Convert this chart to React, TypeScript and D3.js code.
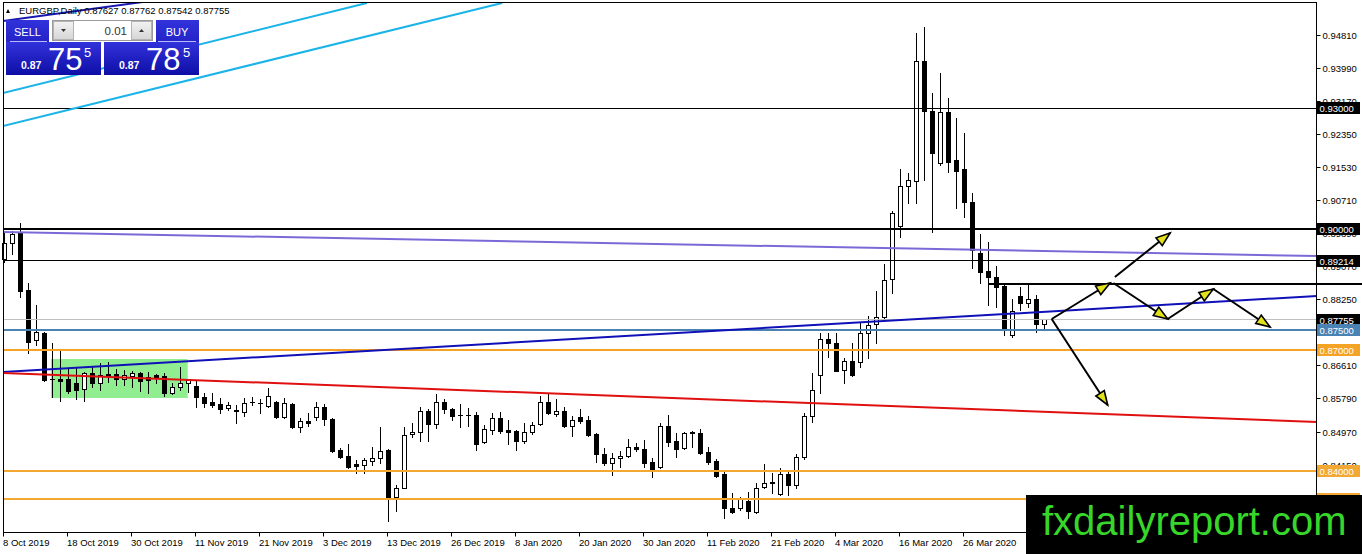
import * as d3 from 'd3';

// EURGBP daily candles, 8 Oct 2019 .. 9 Apr 2020 (one value per trading day)
const open = [
  0.89257, 0.89654, 0.89902, 0.88489, 0.87249, 0.87423, 0.86283, 0.86283, 0.86283, 0.86183,
  0.86035, 0.86431, 0.86183, 0.86407, 0.86407, 0.86283, 0.86357, 0.86431, 0.86332, 0.86382,
  0.86357, 0.85936, 0.86084, 0.86183, 0.86109, 0.85836, 0.85712, 0.85663, 0.85564, 0.85514,
  0.85464, 0.85712, 0.85688, 0.85613, 0.85712, 0.85341, 0.85663, 0.85093, 0.85241, 0.85341,
  0.85588, 0.85291, 0.84522, 0.84374, 0.84175, 0.84151, 0.84250, 0.84324, 0.84522, 0.83357,
  0.83580, 0.84919, 0.84969, 0.85489, 0.85167, 0.85712, 0.85539, 0.85390, 0.85390, 0.85390,
  0.84721, 0.85018, 0.85316, 0.85018, 0.84993, 0.84746, 0.84969, 0.85167, 0.85712, 0.85415,
  0.85489, 0.85117, 0.85341, 0.85266, 0.84919, 0.84423, 0.84200, 0.84324, 0.84374, 0.84597,
  0.84547, 0.84225, 0.84101, 0.85117, 0.84746, 0.84572, 0.84969, 0.84944, 0.84473, 0.84250,
  0.83928, 0.83085, 0.83085, 0.83258, 0.82986, 0.83605, 0.83704, 0.83432, 0.83928, 0.83655,
  0.84349, 0.85365, 0.86382, 0.87274, 0.87175, 0.86506, 0.86729, 0.86704, 0.87423, 0.87646,
  0.87820, 0.88762, 0.90075, 0.91067, 0.91191, 0.94141, 0.92926, 0.91637, 0.92877, 0.91687,
  0.91464, 0.90670, 0.89406, 0.88960, 0.88811, 0.88588, 0.87373, 0.88340, 0.88167, 0.88266,
  0.87627,
];
const high = [
  0.89927, 0.89952, 0.90150, 0.88662, 0.88117, 0.87448, 0.87175, 0.87026, 0.86531, 0.86580,
  0.86456, 0.86580, 0.86679, 0.86704, 0.86531, 0.86506, 0.86481, 0.86456, 0.86456, 0.86407,
  0.86431, 0.86183, 0.86580, 0.86283, 0.86233, 0.85936, 0.85936, 0.85811, 0.85712, 0.85638,
  0.85811, 0.85836, 0.85787, 0.86059, 0.85740, 0.85811, 0.85680, 0.85316, 0.85440, 0.85712,
  0.85663, 0.85316, 0.84572, 0.84671, 0.84275, 0.84324, 0.84597, 0.85093, 0.84540, 0.83655,
  0.85093, 0.85192, 0.85588, 0.85539, 0.85911, 0.85787, 0.85564, 0.85663, 0.85564, 0.85464,
  0.85142, 0.85440, 0.85464, 0.85266, 0.85018, 0.85192, 0.85216, 0.85861, 0.85936, 0.85787,
  0.85588, 0.85365, 0.85539, 0.85365, 0.84944, 0.84572, 0.84448, 0.84498, 0.84795, 0.84696,
  0.84770, 0.84324, 0.85192, 0.85390, 0.84944, 0.84969, 0.84993, 0.85043, 0.84597, 0.84300,
  0.84027, 0.83456, 0.83357, 0.83481, 0.83704, 0.84175, 0.83952, 0.84076, 0.83977, 0.84423,
  0.85440, 0.86431, 0.87423, 0.87423, 0.87423, 0.86803, 0.87175, 0.87671, 0.87844, 0.88464,
  0.89133, 0.90447, 0.91488, 0.91389, 0.94860, 0.95009, 0.93373, 0.93868, 0.93249, 0.92753,
  0.92381, 0.90894, 0.89877, 0.89679, 0.89084, 0.88662, 0.88266, 0.88563, 0.88613, 0.88365,
  0.87762,
];
const low = [
  0.89183, 0.89381, 0.88315, 0.86927, 0.87125, 0.86233, 0.85836, 0.85737, 0.85936, 0.85787,
  0.85737, 0.86084, 0.86010, 0.86208, 0.86134, 0.86134, 0.86084, 0.85985, 0.85936, 0.86183,
  0.85861, 0.85911, 0.86010, 0.85960, 0.85588, 0.85588, 0.85588, 0.85440, 0.85514, 0.85192,
  0.85365, 0.85638, 0.85440, 0.85588, 0.85316, 0.85316, 0.85080, 0.84969, 0.85117, 0.85266,
  0.85142, 0.84473, 0.84324, 0.84090, 0.83952, 0.83952, 0.84151, 0.84200, 0.82762, 0.83010,
  0.83570, 0.84845, 0.84746, 0.84746, 0.85068, 0.85440, 0.85266, 0.85093, 0.85117, 0.84522,
  0.84696, 0.84919, 0.84944, 0.84671, 0.84522, 0.84696, 0.84919, 0.85142, 0.85415, 0.85365,
  0.85093, 0.84870, 0.85192, 0.84880, 0.84225, 0.84151, 0.83903, 0.84101, 0.84349, 0.84498,
  0.84101, 0.83853, 0.84076, 0.84622, 0.84349, 0.84560, 0.84597, 0.84423, 0.84175, 0.83853,
  0.82837, 0.82961, 0.83035, 0.82837, 0.82961, 0.83580, 0.83456, 0.83407, 0.83407, 0.83580,
  0.84300, 0.85216, 0.85936, 0.86828, 0.86470, 0.86183, 0.86370, 0.86580, 0.86803, 0.87175,
  0.87745, 0.88415, 0.89803, 0.90646, 0.90646, 0.91216, 0.89927, 0.91588, 0.91414, 0.90522,
  0.90299, 0.89034, 0.88662, 0.88117, 0.88067, 0.87373, 0.87324, 0.87993, 0.88067, 0.87448,
  0.87542,
];
const close = [
  0.89654, 0.89877, 0.88464, 0.87200, 0.87448, 0.86258, 0.86275, 0.86233, 0.85985, 0.86010,
  0.86431, 0.86183, 0.86382, 0.86357, 0.86283, 0.86382, 0.86431, 0.86233, 0.86258, 0.86307,
  0.85936, 0.86084, 0.86183, 0.86258, 0.85836, 0.85688, 0.85638, 0.85539, 0.85638, 0.85489,
  0.85688, 0.85705, 0.85680, 0.85861, 0.85341, 0.85688, 0.85093, 0.85241, 0.85192, 0.85588,
  0.85291, 0.84498, 0.84349, 0.84101, 0.84126, 0.84275, 0.84324, 0.84498, 0.83357, 0.83580,
  0.84894, 0.84969, 0.85489, 0.85167, 0.85712, 0.85539, 0.85365, 0.85380, 0.85385, 0.84671,
  0.85043, 0.85316, 0.84993, 0.84969, 0.84746, 0.84969, 0.85142, 0.85712, 0.85440, 0.85489,
  0.85117, 0.85266, 0.85241, 0.84894, 0.84423, 0.84200, 0.84324, 0.84374, 0.84597, 0.84547,
  0.84200, 0.84051, 0.85117, 0.84721, 0.84547, 0.84944, 0.84944, 0.84448, 0.84225, 0.83878,
  0.83085, 0.82986, 0.83308, 0.83010, 0.83580, 0.83704, 0.83710, 0.83928, 0.83655, 0.84349,
  0.85365, 0.86010, 0.87274, 0.87175, 0.86481, 0.86729, 0.86382, 0.87423, 0.87621, 0.87820,
  0.88737, 0.90398, 0.91067, 0.91216, 0.94141, 0.92902, 0.91885, 0.92877, 0.91662, 0.91439,
  0.90670, 0.89480, 0.88935, 0.88811, 0.88563, 0.87497, 0.87968, 0.88167, 0.88266, 0.87646,
  0.87755,
];

const firstDay = new Date(2019, 9, 8);
const holidays = ['2019-12-25', '2020-01-01'];

const priceTicks = [
  0.9481, 0.9399, 0.9317, 0.9235, 0.9153, 0.9071, 0.8989, 0.8907,
  0.8825, 0.8743, 0.8661, 0.8579, 0.8497, 0.8415, 0.8333,
];

// horizontal levels drawn on the chart
const levelPrices = [0.93, 0.9, 0.89214, 0.87755, 0.875, 0.87, 0.84, 0.833];
// short resistance line starting at early April
const resistance = { fromBar: 123, price: 0.8865 };

// trend lines as [bar, price, bar, price]
const trendLines = [
  [-0.2, 0.93372, 45.3, 0.95603],
  [-0.2, 0.92554, 62.2, 0.95603],
  [-0.2, 0.95157, 18.2, 0.95653],
  [-0.2, 0.89927, 164.1, 0.89332],
  [-0.2, 0.86457, 164.1, 0.88341],
  [-0.2, 0.86432, 164.1, 0.85218],
];

// consolidation zone [bar0, bar1, priceTop, priceBottom]
const zone = [5.8, 22.9, 0.86779, 0.85813];

// scenario arrows [bar, price, bar, price]
const arrows = [
  [130.9, 0.87771, 138.2, 0.88663],
  [138.8, 0.88812, 145.7, 0.89902],
  [138.6, 0.88663, 145.4, 0.87771],
  [145.4, 0.87771, 151.1, 0.88514],
  [151.1, 0.88514, 158.2, 0.87572],
  [130.9, 0.87771, 137.9, 0.85639],
];

const font = "'Liberation Sans', Arial, sans-serif";

export default function App() {
  const width = 1362;
  const height = 554;
  const left = 3.5, top = 2.5, right = 1316.5, bottom = 532.5;

  const isoFmt = d3.timeFormat('%Y-%m-%d');
  const days = d3.timeDay
    .range(firstDay, new Date(2020, 5, 1))
    .filter(d => d.getDay() !== 0 && d.getDay() !== 6 && !holidays.includes(isoFmt(d)))
    .slice(0, close.length);
  const dateFmt = d3.timeFormat('%-d %b %Y');

  const x = d3.scaleLinear().domain([0, close.length - 1]).range([4.5, 4.5 + 8 * (close.length - 1)]);
  const y = d3.scaleLinear().domain([0.8497, 0.9481]).range([432, 35]);

  const levelStyle = [
    { color: '#000', w: 1, bg: '#000' },
    { color: '#000', w: 2, bg: '#000' },
    { color: '#000', w: 1, bg: '#000' },
    { color: '#c0c0c0', w: 1, bg: '#000' },
    { color: '#4a82b4', w: 2, bg: '#4a82b4' },
    { color: '#f5a325', w: 2, bg: '#f5a325' },
    { color: '#f2a833', w: 2, bg: '#f2a833' },
    { color: '#f2a833', w: 2, bg: '#f2a833' },
  ];
  const trendStyle = [
    { color: '#1ab4e8', w: 2 },
    { color: '#1ab4e8', w: 2 },
    { color: '#1818b0', w: 2 },
    { color: '#7a6ad8', w: 2 },
    { color: '#1010b8', w: 2 },
    { color: '#e01010', w: 2 },
  ];

  const crisp = (v: number) => Math.round(v - 0.5) + 0.5;

  const head = (x1: number, y1: number, x2: number, y2: number) => {
    const a = Math.atan2(y2 - y1, x2 - x1);
    const L = 14, W = 5;
    const bx = x2 - L * Math.cos(a), by = y2 - L * Math.sin(a);
    return `${x2},${y2} ${bx - W * Math.sin(a)},${by + W * Math.cos(a)} ${bx + W * Math.sin(a)},${by - W * Math.cos(a)}`;
  };

  return (
    <svg width={width} height={height} style={{ position: 'absolute', left: 0, top: 0, display: 'block', background: '#fff' }}>
      <defs>
        <clipPath id="plot">
          <rect x={left} y={top} width={right - left} height={bottom - top} />
        </clipPath>
        <linearGradient id="btn" x1="0" y1="0" x2="0" y2="1">
          <stop offset="0" stopColor="#3232dc" />
          <stop offset="1" stopColor="#0e0ea6" />
        </linearGradient>
        <linearGradient id="spin" x1="0" y1="0" x2="0" y2="1">
          <stop offset="0" stopColor="#f2f2f2" />
          <stop offset="1" stopColor="#d6d6d6" />
        </linearGradient>
      </defs>

      {/* zone */}
      <rect x={x(zone[0])} y={y(zone[2])} width={x(zone[1]) - x(zone[0])} height={y(zone[3]) - y(zone[2])} fill="#90ee90" />

      {/* candles */}
      <g>
        {close.map((c, i) => {
          const o = open[i];
          const cx = x(i);
          const yTop = crisp(y(Math.max(o, c)));
          const yBot = crisp(y(Math.min(o, c)));
          const bull = c >= o;
          return (
            <g key={i}>
              <line x1={cx} x2={cx} y1={Math.round(y(high[i]))} y2={Math.round(y(low[i])) + 1} stroke="#000" strokeWidth={1} />
              {yBot - yTop < 1 ? (
                <line x1={cx - 2.5} x2={cx + 2.5} y1={yTop} y2={yTop} stroke="#000" strokeWidth={1} />
              ) : (
                <rect x={cx - 2} y={yTop} width={4} height={yBot - yTop} fill={bull ? '#fff' : '#000'} stroke="#000" strokeWidth={1} />
              )}
            </g>
          );
        })}
      </g>

      {/* horizontal levels */}
      {levelPrices.map((p, i) => {
        const s = levelStyle[i];
        const yy = s.w === 1 ? crisp(y(p)) : Math.round(y(p));
        return <line key={i} x1={left} x2={right} y1={yy} y2={yy} stroke={s.color} strokeWidth={s.w} />;
      })}
      <line x1={x(resistance.fromBar)} x2={width} y1={Math.round(y(resistance.price))} y2={Math.round(y(resistance.price))} stroke="#000" strokeWidth={2} />

      {/* trend lines */}
      <g clipPath="url(#plot)">
        {trendLines.map((t, i) => (
          <line key={i} x1={x(t[0])} y1={y(t[1])} x2={x(t[2])} y2={y(t[3])} stroke={trendStyle[i].color} strokeWidth={trendStyle[i].w} />
        ))}
      </g>

      {/* arrows */}
      <g>
        {arrows.map((a, i) => {
          const x1 = x(a[0]), y1 = y(a[1]), x2 = x(a[2]), y2 = y(a[3]);
          return (
            <g key={i}>
              <line x1={x1} y1={y1} x2={x2} y2={y2} stroke="#000" strokeWidth={2} />
              <polygon points={head(x1, y1, x2, y2)} fill="#e2e21c" stroke="#000" strokeWidth={1.6} strokeLinejoin="miter" />
            </g>
          );
        })}
      </g>

      {/* frame */}
      <rect x={left} y={top} width={right - left} height={bottom - top} fill="none" stroke="#000" strokeWidth={1} />

      {/* price axis */}
      <g fontFamily={font} fontSize={9.5}>
        {priceTicks.map((p, i) => {
          const yy = crisp(y(p));
          return (
            <g key={i}>
              <line x1={right} x2={right + 4} y1={yy} y2={yy} stroke="#000" />
              <text x={right + 6} y={yy + 3.5} fill="#000">{p.toFixed(5)}</text>
            </g>
          );
        })}
        {levelPrices.map((p, i) => {
          const yy = Math.round(y(p));
          return (
            <g key={i}>
              <rect x={right + 0.5} y={yy - 6} width={43} height={12} fill={levelStyle[i].bg} />
              <text x={right + 3} y={yy + 4} fill="#fff">{p.toFixed(5)}</text>
            </g>
          );
        })}
      </g>

      {/* date axis */}
      <g fontFamily={font} fontSize={9.5}>
        {days.map((d, i) => {
          if (i % 8 !== 0) return null;
          const xx = crisp(x(i) - 1);
          return (
            <g key={i}>
              <line x1={xx} x2={xx} y1={bottom} y2={bottom + 4} stroke="#000" />
              <text x={xx - 0.5} y={546} fill="#000">{dateFmt(d)}</text>
            </g>
          );
        })}
      </g>

      {/* header */}
      <polygon points="6,13 10,13 8,9" fill="#000" />
      <text x={19} y={14} fontFamily={font} fontSize={9.5} fill="#000">
        EURGBP,Daily  {open[open.length - 1].toFixed(5)} {high[high.length - 1].toFixed(5)} {low[low.length - 1].toFixed(5)} {close[close.length - 1].toFixed(5)}
      </text>

      {/* one click trading panel */}
      <g fontFamily={font}>
        <rect x={6} y={20} width={43} height={55} fill="url(#btn)" />
        <rect x={6} y={42} width={95} height={33} fill="url(#btn)" />
        <rect x={156} y={20} width={43} height={55} fill="url(#btn)" />
        <rect x={104} y={42} width={95} height={33} fill="url(#btn)" />
        <line x1={10} x2={47} y1={41.5} y2={41.5} stroke="#b8b8ff" />
        <line x1={158} x2={196} y1={41.5} y2={41.5} stroke="#b8b8ff" />
        <text x={27.5} y={35.5} textAnchor="middle" fill="#fff" fontSize={11}>SELL</text>
        <text x={177} y={35.5} textAnchor="middle" fill="#fff" fontSize={11}>BUY</text>

        <rect x={52.5} y={20.5} width={100} height={20} fill="#fff" stroke="#9a9a9a" />
        <rect x={53.5} y={21.5} width={20} height={18} fill="url(#spin)" stroke="#b4b4b4" />
        <rect x={131.5} y={21.5} width={20} height={18} fill="url(#spin)" stroke="#b4b4b4" />
        <polygon points="61,29 66,29 63.5,32" fill="#333" />
        <polygon points="139,32 144,32 141.5,29" fill="#333" />
        <text x={127} y={34.5} textAnchor="end" fill="#333" fontSize={11.5}>0.01</text>

        <text x={21} y={69} fill="#fff" fontSize={10.5} fontWeight="bold">0.87</text>
        <text x={48} y={70} fill="#fff" fontSize={31}>75</text>
        <text x={84} y={57} fill="#fff" fontSize={13}>5</text>
        <text x={119} y={69} fill="#fff" fontSize={10.5} fontWeight="bold">0.87</text>
        <text x={146} y={70} fill="#fff" fontSize={31}>78</text>
        <text x={183} y={57} fill="#fff" fontSize={13}>5</text>
      </g>

      {/* watermark */}
      <rect x={1026} y={495} width={width - 1026} height={height - 495} fill="#000" />
      <text x={1042} y={535} fontFamily={font} fontSize={40} fill="#38d62a">fxdailyreport.com</text>
    </svg>
  );
}
